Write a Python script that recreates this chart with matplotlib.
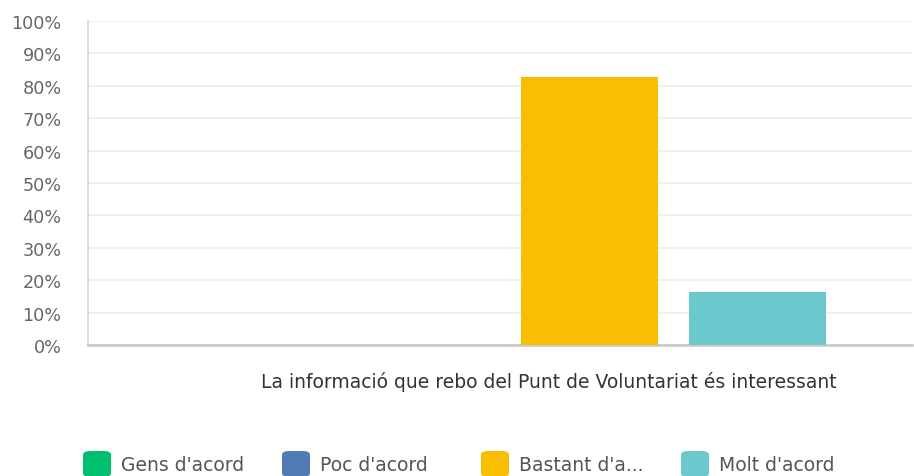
import numpy as np
import matplotlib.pyplot as plt
from matplotlib.patches import FancyBboxPatch

plt.rcParams['font.family'] = ['DejaVu Sans']

#%%------------------------ DATA ----------------------------------------------
question = 'La informació que rebo del Punt de Voluntariat és interessant'
answers = ["Gens d'acord", "Poc d'acord", "Bastant d'a...", "Molt d'acord"]
values = [0.0, 0.0, 82.7, 16.5]          # percent
colors = ['#00bf6f', '#507cb6', '#f9be00', '#6bc8cd']
yticks = [0, 10, 20, 30, 40, 50, 60, 70, 80, 90, 100]

#-----------------------------------------------------------------------------
W, H = 914, 477
fig = plt.figure(figsize=(W / 100, H / 100), dpi=100)
ax = fig.add_axes([88 / W, 1 - 346 / H, (912 - 88) / W, (346 - 22) / H])

x = np.arange(len(answers))
ax.bar(x, values, width=0.815, color=colors, zorder=3)

ax.set_xlim(-0.985, 3.92)
ax.set_ylim(0, 100)
ax.set_yticks(yticks)
ax.set_yticklabels([f'{v}%' for v in yticks])
ax.set_xticks([])

ax.grid(axis='y', color='#eeeeee', linewidth=1.3, zorder=0)
ax.tick_params(axis='y', length=0, pad=19, labelsize=12.7, labelcolor='#666666')

for s in ['top', 'right']:
    ax.spines[s].set_visible(False)
ax.spines['left'].set_color('#d6d6d6')
ax.spines['left'].set_linewidth(1.2)
ax.spines['bottom'].set_color('#cccccc')
ax.spines['bottom'].set_linewidth(2)

fig.text(549 / W, 1 - 382 / H, question, ha='center', va='center',
         fontsize=13.5, color='#333333')

# legend drawn by hand to keep SurveyMonkey-like spacing
leg_x = [83, 282, 481, 681]
for lx, name, c in zip(leg_x, answers, colors):
    box = FancyBboxPatch((lx / W, 1 - 478 / H), 28 / W, 26 / H,
                         boxstyle='round,pad=0,rounding_size=0.008',
                         transform=fig.transFigure, facecolor=c,
                         edgecolor='none', clip_on=False)
    fig.patches.append(box)
    fig.text((lx + 38) / W, 1 - 466 / H, name, ha='left', va='center',
             fontsize=13.5, color='#555555')

fig.savefig('out.png', dpi=100)
